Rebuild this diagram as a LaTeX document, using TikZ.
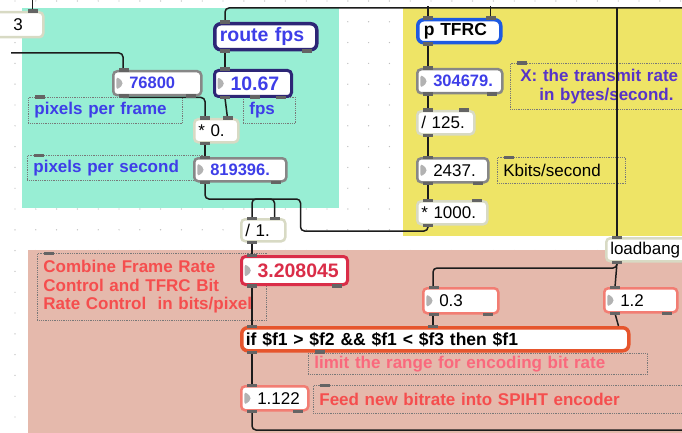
\documentclass[tikz,border=0pt]{standalone}
\usepackage{fontspec}
\setmainfont{Liberation Sans}
\usepackage{tikz}
\usetikzlibrary{
  calc
}
\definecolor{panelcyan}{RGB}{152,238,212}
\definecolor{panelyellow}{RGB}{238,228,102}
\definecolor{panelpink}{RGB}{229,185,172}
\definecolor{cordblack}{RGB}{28,28,28}
\definecolor{tabgray}{RGB}{100,100,100}
\definecolor{numgray}{RGB}{135,135,135}
\definecolor{trigray}{RGB}{178,178,178}
\definecolor{objbeige}{RGB}{216,218,196}
\definecolor{dotgray}{RGB}{120,120,120}
\definecolor{griddot}{RGB}{190,190,190}
\definecolor{routenavy}{RGB}{45,38,118}
\definecolor{tfrcblue}{RGB}{30,90,225}
\definecolor{textblue}{RGB}{62,62,232}
\definecolor{textpurple}{RGB}{88,52,200}
\definecolor{rednum}{RGB}{218,45,72}
\definecolor{textred}{RGB}{245,78,78}
\definecolor{textpink}{RGB}{250,105,125}
\definecolor{ifred}{RGB}{230,85,45}
\definecolor{numpink}{RGB}{242,125,115}
\newcommand{\maxfont}{\fontsize{17}{18.5}\selectfont}
\newcommand{\maxbig}{\fontsize{19.5}{21}\selectfont\bfseries}
\newcommand{\maxnum}{\fontsize{16.5}{18}\selectfont\bfseries}
\tikzset{
  maxbox/.style={anchor=north west,rectangle,rounded corners=4pt,fill=white,
    inner ysep=0pt,align=left,font=\maxfont},
  objbox/.style={maxbox,draw=objbeige,line width=2.5pt,inner xsep=4pt},
  numbox/.style={maxbox,draw=numgray,line width=2.5pt,inner xsep=16pt,
    path picture={\fill[trigray] ($(path picture bounding box.west)+(3,-7.5)$)
      -- ++(8,7.5) -- ++(-8,7.5) -- cycle;}},
  bluenum/.style={numbox,font=\maxnum,text=textblue},
  pinknum/.style={numbox,draw=numpink},
  comment/.style={anchor=north west,rectangle,draw=dotgray,densely dotted,
    line width=0.8pt,inner xsep=6pt,inner ysep=0pt,align=left,
    font=\maxfont\bfseries},
  cord/.style={draw=cordblack,line width=1.5pt,rounded corners=4pt},
  tab/.style={fill=tabgray}
}
\newcommand{\inl}[1]{\fill[tab] ($(#1.north west)+(7,-1.5)$) rectangle ++(10,3.5);}
\newcommand{\inr}[1]{\fill[tab] ($(#1.north east)+(-17,-1.5)$) rectangle ++(10,3.5);}
\newcommand{\outl}[1]{\fill[tab] ($(#1.south west)+(7,-2)$) rectangle ++(10,3.5);}
\newcommand{\outr}[1]{\fill[tab] ($(#1.south east)+(-17,-2)$) rectangle ++(10,3.5);}

\begin{document}
\begin{tikzpicture}[x=1pt,y=-1pt]
  \useasboundingbox (0,0) rectangle (682,433);
  \clip (0,0) rectangle (682,433);
  \foreach \i in {0,...,32}
    \foreach \j in {0,...,21}
      \fill[griddot] ({15+\i*20.8},{1+\j*20.8}) circle (0.7);
  \fill[panelcyan] (22,8) rectangle (339,208);
  \fill[panelyellow] (403,8) rectangle (682,236);
  \fill[panelpink] (28,250) rectangle (682,433);

  \node[comment,text=textblue,text width=142pt,minimum height=26pt] (frameLab) at (28,97) {pixels per frame};
  \node[comment,text=textblue,text width=40pt,minimum height=26pt] (fpsLab) at (243,97) {fps};
  \node[comment,text=textblue,text width=166pt,minimum height=25pt] (secLab) at (27,155) {pixels per second};
  \node[comment,text=textpurple,inner xsep=10pt,text width=160pt,minimum height=46pt] (xLab) at (510,63)
    {X: the transmit rate\\\hspace*{19pt}in bytes/second.};
  \node[comment,font=\maxfont,text width=116pt,minimum height=26pt] (kLab) at (497,157) {Kbits/second};
  \node[comment,text=textred,text width=217pt,minimum height=67pt] (combLab) at (37,253)
    {Combine Frame Rate\\Control and TFRC Bit\\Rate Control\ \ in bits/pixel};
  \node[comment,text=textpink,text width=327pt,minimum height=21pt] (limLab) at (308,353) {limit the range for encoding bit rate};
  \node[comment,text=textred,text width=368pt,minimum height=28pt] (feedLab) at (313,385) {Feed new bitrate into SPIHT encoder};

  \node[objbox,inner xsep=24pt,text width=6pt,minimum height=25pt] (n3) at (-12,11) {3};
  \node[maxbox,draw=routenavy,line width=3.5pt,rounded corners=6pt,inner xsep=5pt,font=\maxbig,
    text=textblue,text width=92pt,minimum height=26pt] (route) at (213,22) {route fps};
  \node[numbox,draw=routenavy,line width=3pt,font=\maxbig,text=textblue,text width=45pt,
    minimum height=26pt] (fpsnum) at (213,69) {10.67};
  \node[bluenum,text width=56pt,minimum height=24pt] (frame) at (112,70) {76800};
  \node[objbox,text width=36pt,minimum height=23pt] (mult) at (193,118) {* 0.};
  \node[bluenum,text width=60pt,minimum height=23pt] (pixsec) at (193,157) {819396.};
  \node[objbox,text width=36pt,minimum height=22pt] (div) at (240,218) {/ 1.};
  \node[maxbox,draw=tfrcblue,line width=3.5pt,rounded corners=6pt,inner xsep=6pt,
    font=\fontsize{17.5}{19}\selectfont\bfseries,text width=71pt,minimum height=23pt] (tfrc) at (416,18) {p TFRC};
  \node[bluenum,text width=53pt,minimum height=24pt] (xrate) at (416,68) {304679.};
  \node[objbox,text width=49pt,minimum height=23pt] (kdiv) at (416,110) {/ 125.};
  \node[numbox,text width=39pt,minimum height=24pt] (kbits) at (416,157) {2437.};
  \node[objbox,text width=62pt,minimum height=23pt] (kmul) at (416,200) {* 1000.};
  \node[objbox,text width=92pt,minimum height=23pt] (loadb) at (605,237) {loadbang};
  \node[numbox,draw=rednum,line width=3pt,font=\maxbig,text=rednum,text width=74pt,
    minimum height=28pt] (rate) at (240,255) {3.208045};
  \node[pinknum,text width=43pt,minimum height=25pt] (lo) at (422,287) {0.3};
  \node[pinknum,text width=41pt,minimum height=24pt] (hi) at (603,287) {1.2};
  \node[maxbox,draw=ifred,line width=3.5pt,rounded corners=6pt,inner xsep=4pt,
    font=\fontsize{17.5}{19}\selectfont\bfseries,text width=379pt,minimum height=23pt] (clamp) at (240,326)
    {if \$f1 > \$f2 \&\& \$f1 < \$f3 then \$f1};
  \node[pinknum,text width=35pt,minimum height=24pt] (bits) at (240,385) {1.122};

  \coordinate (topR) at (690,8);
  \coordinate (lbTop) at (617,8);
  \coordinate (leftIn) at (11,53);
  \coordinate (outR) at (690,430);
  \coordinate (busBend) at ($(div.north east)+(14,13)$);
  \coordinate (clampMid) at ($(clamp.north west)+(193,0)$);

  \draw[cord] ($(n3.north east)+(-12,0)$) -- ++(0,-12);
  \draw[cord] ($(route.north west)+(12,0)$) |- (topR);
  \draw[cord] ($(tfrc.north west)+(12,0)$) -- ++(0,-12);
  \draw[cord] ($(tfrc.north east)+(-12,0)$) -- ++(0,-12);
  \draw[cord] (lbTop) -- ($(loadb.north west)+(12,0)$);
  \draw[cord] (leftIn) -| ($(frame.north west)+(11,0)$);
  \draw[cord] ($(route.south west)+(12,0)$) -- ($(fpsnum.north west)+(12,0)$);
  \draw[cord] ($(frame.south west)+(11,1)$) -| ($(mult.north west)+(12,0)$);
  \draw[cord] ($(fpsnum.south west)+(12,0)$) -- ($(mult.north east)+(-12,0)$);
  \draw[cord] ($(mult.south west)+(12,0)$) -- ($(pixsec.north west)+(12,0)$);
  \draw[cord] ($(pixsec.south west)+(12,0)$) |- ($(div.north east)+(-12,-19)$) -- ($(div.north east)+(-12,0)$);
  \draw[cord] ($(kmul.south west)+(12,0)$) |- (busBend) |- ($(div.north west)+(12,-19)$) -- ($(div.north west)+(12,0)$);
  \foreach \a/\b in {tfrc/xrate,xrate/kdiv,kdiv/kbits,kbits/kmul,div/rate,rate/clamp,clamp/bits,loadb/hi}
    \draw[cord] ($(\a.south west)+(12,0)$) -- ($(\b.north west)+(12,0)$);
  \draw[cord] ($(loadb.south west)+(12,0)$) |- ($(lo.north west)+(11,-19)$) -- ($(lo.north west)+(11,0)$);
  \draw[cord] ($(lo.south west)+(11,0)$) -- (clampMid);
  \draw[cord] ($(hi.south west)+(12,0)$) -- ($(clamp.north east)+(-12,0)$);
  \draw[cord] ($(bits.south west)+(12,0)$) |- (outR);

  \foreach \n in {route,fpsnum,frame,mult,pixsec,div,tfrc,xrate,kdiv,kbits,kmul,loadb,rate,lo,hi,clamp,bits,
    frameLab,fpsLab,secLab,xLab,kLab,combLab,feedLab} {\inl{\n}}
  \foreach \n in {n3,mult,div,tfrc,kdiv,kmul} {\inr{\n}}
  \foreach \n in {route,fpsnum,frame,mult,pixsec,div,tfrc,xrate,kdiv,kbits,kmul,loadb,rate,lo,hi,clamp,bits} {\outl{\n}}
  \foreach \n in {route,fpsnum,frame,pixsec,xrate,kbits,rate,lo,hi,bits} {\outr{\n}}
  \fill[tab] ($(clampMid)+(-5,-1.5)$) rectangle ++(10,3.5);
  \fill[tab] ($(limLab.north west)+(7,-3)$) rectangle ++(10,3.5);
\end{tikzpicture}
\end{document}
